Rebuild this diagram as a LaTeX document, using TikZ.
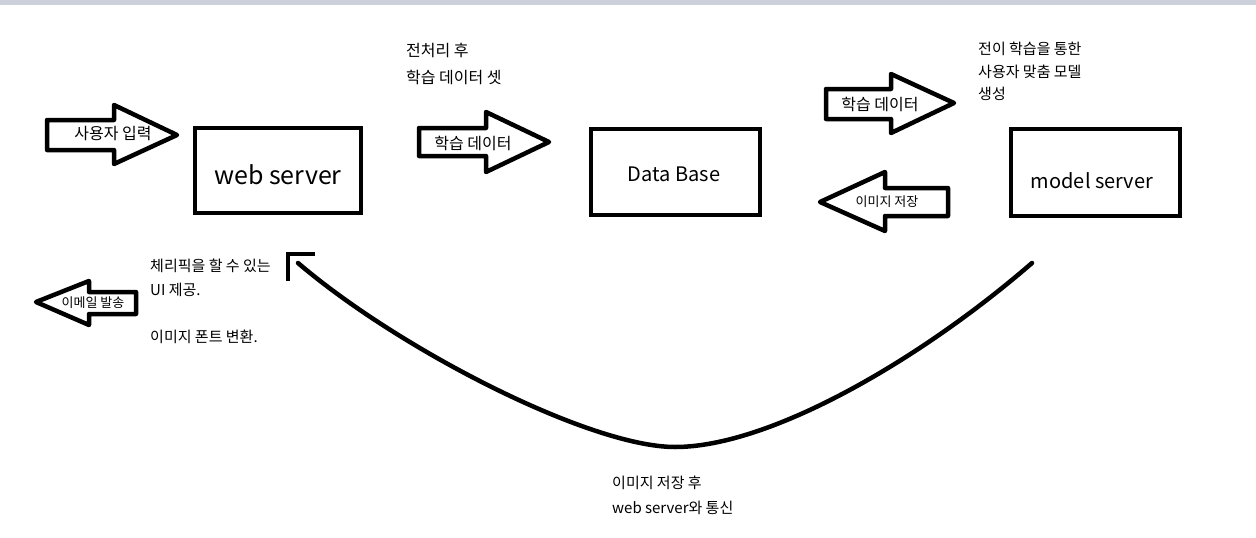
\documentclass[tikz,border=0pt]{standalone}
\usepackage{fontspec}
\setmainfont{Noto Sans CJK KR}
\definecolor{topbar}{RGB}{204,208,218}
\begin{document}
\begin{tikzpicture}[x=1pt,y=-1pt,
  box/.style={draw,line width=4pt,minimum width=#1,inner sep=0pt},
  blk/.style={draw,line width=4.5pt,line join=round},
  lab/.style={inner sep=0pt,font=\fontsize{16}{18}\selectfont},
  slab/.style={inner sep=0pt,font=\fontsize{13}{15}\selectfont},
  note/.style={inner sep=0pt,anchor=west,font=\fontsize{15}{17}\selectfont},
  bignote/.style={inner sep=0pt,anchor=west,font=\fontsize{16}{18}\selectfont},
  title/.style={inner sep=0pt,font=\fontsize{20}{24}\selectfont}]
\useasboundingbox (0,0) rectangle (1256,538);
\fill[topbar] (0,0) rectangle (1256,5);

% boxes
\node[box=166pt,minimum height=85pt] (web) at (278,170.5) {};
\node[box=169pt,minimum height=86pt] (db) at (675.5,172) {};
\node[box=169pt,minimum height=87pt] (model) at (1095.5,172.5) {};
\node[inner sep=0pt,font=\fontsize{25}{28}\selectfont] (webl) at (278,175) {web server};
\node[title] (dbl) at (674,174) {Data Base};
\node[title] (modell) at (1092,181) {model server};

% block arrows
\draw[blk] (47,120) -- (114,120) -- (114,105) -- (177,135) -- (114,164) -- (114,150) -- (47,150) -- cycle;
\node[lab] (a1) at (113,134) {사용자 입력};
\draw[blk] (419,128) -- (486,128) -- (486,112) -- (549,142) -- (486,172) -- (486,156) -- (419,156) -- cycle;
\node[lab] (a2) at (473,143) {학습 데이터};
\draw[blk] (826,89) -- (891,89) -- (891,74) -- (954,103) -- (891,133) -- (891,119) -- (826,119) -- cycle;
\node[lab] (a3) at (880,104) {학습 데이터};
\draw[blk] (948,188) -- (885,188) -- (885,172) -- (820,202) -- (885,231) -- (885,216) -- (948,216) -- cycle;
\node[slab] (a4) at (887,202) {이미지 저장};
\draw[blk] (136,292) -- (89,292) -- (89,281) -- (36,302) -- (89,325) -- (89,314) -- (136,314) -- cycle;
\node[slab] (a5) at (93,303) {이메일 발송};

% notes
\node[bignote] (n1) at (406,50) {전처리 후};
\node[bignote] (n2) at (406,77) {학습 데이터 셋};
\node[note] (n3) at (978,49) {전이 학습을 통한};
\node[note] (n4) at (978,72) {사용자 맞춤 모델};
\node[note] (n5) at (978,94) {생성};
\node[note] (n6) at (150,266) {체리픽을 할 수 있는};
\node[note] (n7) at (150,290) {UI 제공.};
\node[note] (n8) at (150,337) {이미지 폰트 변환.};
\node[note] (n9) at (612,483) {이미지 저장 후};
\node[note] (n10) at (612,508) {web server와 통신};

% curved connector
\coordinate (cs) at (1032,263);
\coordinate (cb) at (675,447);
\coordinate (ce) at (298,263);
\coordinate (h1) at (288,281);
\coordinate (h2) at (288,254);
\coordinate (h3) at (315,254);
\draw[line width=4.5pt,line cap=round] (cs) .. controls (920,360) and (770,447) .. (cb)
  .. controls (590,447) and (400,350) .. (ce);
\draw[line width=4pt] (h1) -- (h2) -- (h3);
\end{tikzpicture}
\end{document}
